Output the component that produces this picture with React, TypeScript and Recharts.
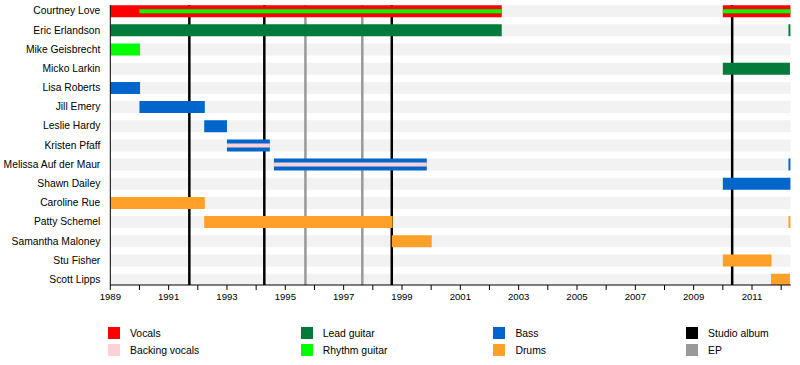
import React from 'react';
import { ComposedChart, Bar, XAxis, YAxis, ReferenceLine, Cell } from 'recharts';

const members = [
  'Courtney Love',
  'Eric Erlandson',
  'Mike Geisbrecht',
  'Micko Larkin',
  'Lisa Roberts',
  'Jill Emery',
  'Leslie Hardy',
  'Kristen Pfaff',
  'Melissa Auf der Maur',
  'Shawn Dailey',
  'Caroline Rue',
  'Patty Schemel',
  'Samantha Maloney',
  'Stu Fisher',
  'Scott Lipps',
];
const rowTicks = [0, 1, 2, 3, 4, 5, 6, 7, 8, 9, 10, 11, 12, 13, 14];

const timelineStart = 1989;
const timelineEnd = 2012.33;

// [member index, start, end]
const vocals: [number, number, number][] = [
  [0, 1989, 2002.42],
  [0, 2010.0, 2012.32],
];
const leadGuitar: [number, number, number][] = [
  [1, 1989, 2002.42],
  [1, 2012.25, 2012.32],
  [3, 2010.0, 2012.3],
];
const rhythmGuitar: [number, number, number][] = [[2, 1989, 1990.02]];
const bass: [number, number, number][] = [
  [4, 1989, 1990.02],
  [5, 1990.0, 1992.24],
  [6, 1992.22, 1993.0],
  [7, 1993.0, 1994.47],
  [8, 1994.61, 1999.85],
  [8, 2012.25, 2012.32],
  [9, 2010.0, 2012.32],
];
const drums: [number, number, number][] = [
  [10, 1989, 1992.24],
  [11, 1992.22, 1998.68],
  [11, 2012.25, 2012.32],
  [12, 1998.65, 2000.02],
  [13, 2010.0, 2011.67],
  [14, 2011.65, 2012.3],
];
// secondary roles, drawn as a thin stripe inside the main bar
const rhythmGuitarSecondary: [number, number, number][] = [
  [0, 1990.0, 2002.42],
  [0, 2010.0, 2012.32],
];
const backingVocals: [number, number, number][] = [
  [7, 1993.0, 1994.47],
  [8, 1994.61, 1999.85],
];

const studioAlbums = [1991.71, 1994.28, 1998.65, 2010.32];
const eps = [1995.69, 1997.64];

const yearTicks = [
  1989, 1990, 1991, 1992, 1993, 1994, 1995, 1996, 1997, 1998, 1999, 2000,
  2001, 2002, 2003, 2004, 2005, 2006, 2007, 2008, 2009, 2010, 2011, 2012,
];
const labeledYears = [1989, 1991, 1993, 1995, 1997, 1999, 2001, 2003, 2005, 2007, 2009, 2011];

const COLORS = {
  vocals: '#FF0000',
  backing: '#FFD0D6',
  lead: '#007B3A',
  rhythm: '#00FF00',
  bass: '#0066CC',
  drums: '#FFA028',
  studio: '#000000',
  ep: '#999999',
  row: '#F2F2F2',
};

const legendLabels = [
  ['Vocals', 'Backing vocals'],
  ['Lead guitar', 'Rhythm guitar'],
  ['Bass', 'Drums'],
  ['Studio album', 'EP'],
];
const legendColors = [
  [COLORS.vocals, COLORS.backing],
  [COLORS.lead, COLORS.rhythm],
  [COLORS.bass, COLORS.drums],
  [COLORS.studio, COLORS.ep],
];

type Entry = {
  row: number;
  bg: [number, number] | null;
  main: [number, number] | null;
  stripe: [number, number] | null;
  color: string;
};

const data: Entry[] = [];
members.forEach((_, i) =>
  data.push({ row: i, bg: [timelineStart, timelineEnd], main: null, stripe: null, color: COLORS.row })
);
const addMain = (list: [number, number, number][], color: string) =>
  list.forEach(([i, s, e]) => data.push({ row: i, bg: null, main: [s, e], stripe: null, color }));
const addStripe = (list: [number, number, number][], color: string) =>
  list.forEach(([i, s, e]) => data.push({ row: i, bg: null, main: null, stripe: [s, e], color }));
addMain(vocals, COLORS.vocals);
addMain(leadGuitar, COLORS.lead);
addMain(rhythmGuitar, COLORS.rhythm);
addMain(bass, COLORS.bass);
addMain(drums, COLORS.drums);
addStripe(rhythmGuitarSecondary, COLORS.rhythm);
addStripe(backingVocals, COLORS.backing);

const FONT = '"Liberation Sans", Arial, Helvetica, sans-serif';
const ROW_DOMAIN: [number, number] = [-0.3, 14.3];

const MemberTick = (props: any) => {
  const { x, y, payload } = props;
  return (
    <text x={x} y={y} dy="0.355em" textAnchor="end" fill="#000" fontSize={10.3} fontFamily={FONT}>
      {members[payload.value]}
    </text>
  );
};

export default function App() {
  return (
    <div style={{ position: 'absolute', left: 0, top: 0, width: 800, height: 365, background: '#fff', fontFamily: FONT }}>
      <ComposedChart
        width={800}
        height={365}
        data={data}
        layout="vertical"
        margin={{ top: 5, right: 9.2, bottom: 50, left: 0 }}
      >
        <XAxis
          type="number"
          domain={[timelineStart, timelineEnd]}
          allowDataOverflow
          ticks={yearTicks}
          interval={0}
          tickSize={5}
          tickMargin={3}
          height={30}
          axisLine={{ stroke: '#000', strokeWidth: 1 }}
          tickLine={{ stroke: '#000' }}
          tick={{ fill: '#000', fontSize: 9.6, fontFamily: FONT }}
          tickFormatter={(v: number) => (labeledYears.includes(v) ? String(v) : '')}
        />
        <YAxis
          yAxisId="rows"
          type="number"
          dataKey="row"
          domain={ROW_DOMAIN}
          allowDataOverflow
          ticks={rowTicks}
          interval={0}
          width={110.3}
          tickLine={false}
          tickSize={6}
          tickMargin={4}
          axisLine={{ stroke: '#000', strokeWidth: 1 }}
          tick={<MemberTick />}
        />
        <YAxis yAxisId="main" orientation="right" type="number" dataKey="row" domain={ROW_DOMAIN} allowDataOverflow ticks={rowTicks} hide />
        <YAxis yAxisId="stripe" orientation="right" type="number" dataKey="row" domain={ROW_DOMAIN} allowDataOverflow ticks={rowTicks} hide />
        <Bar yAxisId="rows" dataKey="bg" fill={COLORS.row} barSize={12} isAnimationActive={false} zIndex={200} />
        {eps.map((y) => (
          <ReferenceLine key={'ep' + y} yAxisId="rows" x={y} stroke={COLORS.ep} strokeWidth={2.5} zIndex={250} />
        ))}
        {studioAlbums.map((y) => (
          <ReferenceLine key={'sa' + y} yAxisId="rows" x={y} stroke={COLORS.studio} strokeWidth={2.5} zIndex={250} />
        ))}
        <Bar yAxisId="main" dataKey="main" barSize={12} isAnimationActive={false} zIndex={300}>
          {data.map((d, i) => (
            <Cell key={i} fill={d.color} />
          ))}
        </Bar>
        <Bar yAxisId="stripe" dataKey="stripe" barSize={4} isAnimationActive={false} zIndex={310}>
          {data.map((d, i) => (
            <Cell key={i} fill={d.color} />
          ))}
        </Bar>
      </ComposedChart>
      {legendLabels.map((col, c) =>
        col.map((label, r) => (
          <div
            key={label}
            style={{
              position: 'absolute',
              left: 108 + c * 192.7,
              top: 327 + r * 17,
              height: 12,
              display: 'flex',
              alignItems: 'center',
              fontSize: 10.4,
              color: '#000',
              whiteSpace: 'nowrap',
            }}
          >
            <span style={{ display: 'inline-block', width: 12, height: 12, background: legendColors[c][r], marginRight: 10 }} />
            <span>{label}</span>
          </div>
        ))
      )}
    </div>
  );
}
